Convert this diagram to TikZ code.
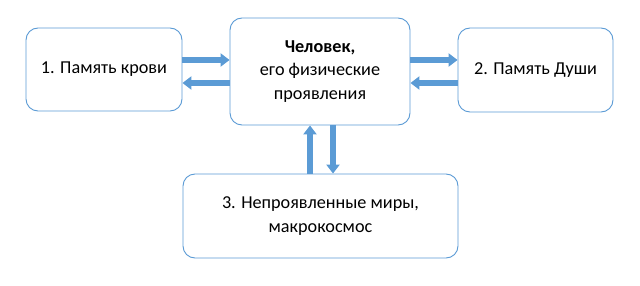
\documentclass[tikz,border=0pt]{standalone}
\usepackage{fontspec}
\setmainfont{Carlito}
\usetikzlibrary{arrows.meta}
\definecolor{bord}{HTML}{5B9BD5}
\definecolor{arr}{HTML}{5B9BD5}
\tikzset{
  box/.style={draw=bord, line width=0.9pt, rounded corners=12pt, fill=white, align=center,
    font=\fontsize{18.2}{23.5}\selectfont, inner sep=0pt},
  bigarrow/.style={draw=arr, line width=6pt, -{Triangle[width=13pt,length=9pt]}}
}
\begin{document}
\begin{tikzpicture}[x=1pt,y=-1pt]
\useasboundingbox (0,0) rectangle (640,286);
\node[box, minimum width=156pt, minimum height=83pt] (b1) at (104,69.5) {1. Память крови};
\node[box, minimum width=180pt, minimum height=107pt] (c) at (320,71.5) {\textbf{Человек,}\\его физические\\проявления};
\node[box, minimum width=155pt, minimum height=84pt] (b2) at (535.5,70) {2. Память Души};
\node[box, minimum width=275pt, minimum height=84pt] (b3) at (320.5,216) {3. Непроявленные миры,\\макрокосмос};
\coordinate (ya) at (0,60);
\coordinate (yb) at (0,83);
\coordinate (xu) at (310,0);
\coordinate (xd) at (333,0);
\draw[bigarrow] (b1.east |- ya) -- (c.west |- ya);
\draw[bigarrow] (c.west |- yb) -- (b1.east |- yb);
\draw[bigarrow] (c.east |- ya) -- (b2.west |- ya);
\draw[bigarrow] (b2.west |- yb) -- (c.east |- yb);
\draw[bigarrow] (xu |- b3.north) -- (xu |- c.south);
\draw[bigarrow] (xd |- c.south) -- (xd |- b3.north);
\end{tikzpicture}
\end{document}
